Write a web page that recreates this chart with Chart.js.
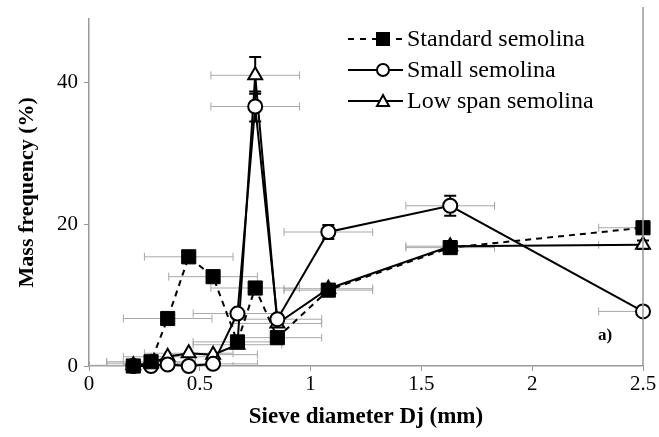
<!DOCTYPE html>
<html>
<head>
<meta charset="utf-8">
<script src="https://cdn.jsdelivr.net/npm/chart.js@4/dist/chart.umd.min.js"></script>
<style>
  html, body { margin: 0; padding: 0; background: #fff; }
  #wrap { width: 659px; height: 437px; }
</style>
</head>
<body>
<div id="wrap"><canvas id="myChart" width="659" height="437"></canvas></div>
<script>
// sieve diameters (mm)
const sieves = [0.2, 0.28, 0.355, 0.45, 0.56, 0.67, 0.75, 0.85, 1.08, 1.63, 2.5];

// mass frequency (%) for each semolina
const standardVals = [0, 0.6, 6.7, 15.4, 12.6, 3.4, 11.0, 4.0, 10.7, 16.7, 19.5];
const smallVals    = [0, 0, 0.2, 0, 0.3, 7.4, 36.6, 6.6, 18.9, 22.6, 7.7];
const lowSpanVals  = [0.1, 0.4, 1.3, 1.8, 1.6, 3.0, 41.0, 6.0, 10.9, 16.9, 17.1];

// error bars: vertical (%) and horizontal (mm)
const standardErr = [0, 0, 0, 0, 0, 0, 0, 0, 0, 0.5, 0.6];
const smallErr    = [0, 0, 0, 0, 0, 0, 2.1, 0, 1.0, 1.4, 0];
const lowSpanErr  = [0, 0, 0, 0, 0, 0, 2.6, 0, 0, 0, 0.6];
const sieveErr    = [0.2, 0.2, 0.2, 0.2, 0.2, 0.2, 0.2, 0.2, 0.2, 0.2, 0.2];

// tick labels
const xTicks = [0, 0.5, 1, 1.5, 2, 2.5];
const xTickLabels = ["0", "0.5", "1", "1.5", "2", "2.5"];
const yTicks = [0, 20, 40];
const yTickLabels = ["0", "20", "40"];

const seriesNames = ["Standard semolina", "Small semolina", "Low span semolina"];

const serif = "'Liberation Serif', 'DejaVu Serif', serif";

function toPoints(vals) {
    return sieves.map((x, i) => ({ x: x, y: vals[i] }));
}

// draws the error bars with the chart's own scales
const errorBars = {
    id: 'errorBars',
    beforeDatasetsDraw(chart) {
        const ctx = chart.ctx;
        const xs = chart.scales.x, ys = chart.scales.y;
        const area = chart.chartArea;
        const yErrs = [standardErr, smallErr, lowSpanErr];
        const vals = [standardVals, smallVals, lowSpanVals];
        ctx.save();
        ctx.beginPath();
        ctx.rect(area.left, area.top, area.right - area.left, area.bottom - area.top);
        ctx.clip();
        // horizontal, grey
        ctx.strokeStyle = '#a8a8a8';
        ctx.lineWidth = 1;
        vals.forEach(v => {
            sieves.forEach((x, i) => {
                const py = ys.getPixelForValue(v[i]);
                const x1 = xs.getPixelForValue(x - sieveErr[i]);
                const x2 = xs.getPixelForValue(x + sieveErr[i]);
                ctx.beginPath();
                ctx.moveTo(x1, py); ctx.lineTo(x2, py);
                ctx.moveTo(x1, py - 4); ctx.lineTo(x1, py + 4);
                ctx.moveTo(x2, py - 4); ctx.lineTo(x2, py + 4);
                ctx.stroke();
            });
        });
        ctx.restore();
        // vertical, black
        ctx.save();
        ctx.strokeStyle = '#000';
        ctx.lineWidth = 2;
        vals.forEach((v, s) => {
            sieves.forEach((x, i) => {
                const e = yErrs[s][i];
                if (!e) return;
                const px = xs.getPixelForValue(x);
                const y1 = ys.getPixelForValue(v[i] - e);
                const y2 = ys.getPixelForValue(v[i] + e);
                ctx.beginPath();
                ctx.moveTo(px, y1); ctx.lineTo(px, y2);
                ctx.moveTo(px - 6, y1); ctx.lineTo(px + 6, y1);
                ctx.moveTo(px - 6, y2); ctx.lineTo(px + 6, y2);
                ctx.stroke();
            });
        });
        ctx.restore();
    }
};

// legend, right border and panel letter
const extras = {
    id: 'extras',
    afterDraw(chart) {
        const ctx = chart.ctx;
        const area = chart.chartArea;
        ctx.save();
        ctx.strokeStyle = '#999';
        ctx.lineWidth = 1.5;
        ctx.beginPath();
        ctx.moveTo(area.right, 7);
        ctx.lineTo(area.right, area.bottom);
        ctx.stroke();

        const rows = [39, 70, 101];
        const styles = ['rect', 'circle', 'triangle'];
        rows.forEach((y, i) => {
            ctx.strokeStyle = '#000';
            ctx.lineWidth = 2;
            ctx.setLineDash(i === 0 ? [6, 6] : []);
            ctx.beginPath();
            ctx.moveTo(348, y); ctx.lineTo(403, y);
            ctx.stroke();
            ctx.setLineDash([]);
            ctx.fillStyle = i === 0 ? '#000' : '#fff';
            ctx.beginPath();
            if (styles[i] === 'rect') {
                ctx.rect(377, y - 6, 12, 12);
            } else if (styles[i] === 'circle') {
                ctx.arc(383, y, 6, 0, Math.PI * 2);
            } else {
                ctx.moveTo(383, y - 6); ctx.lineTo(389, y + 5); ctx.lineTo(377, y + 5); ctx.closePath();
            }
            ctx.fill();
            ctx.stroke();
            ctx.fillStyle = '#000';
            ctx.font = "24px " + serif;
            ctx.textBaseline = 'middle';
            ctx.textAlign = 'left';
            ctx.fillText(seriesNames[i], 407, y + 1);
        });

        ctx.font = "bold 17px " + serif;
        ctx.fillText("a)", 598, 336);
        ctx.restore();
    }
};

new Chart("myChart", {
    type: "line",
    data: {
        datasets: [{
            label: seriesNames[0],
            data: toPoints(standardVals),
            borderColor: '#000',
            borderWidth: 2,
            borderDash: [6, 5],
            pointStyle: 'rect',
            pointRadius: 10,
            pointBackgroundColor: '#000',
            pointBorderColor: '#000',
            pointBorderWidth: 1,
            clip: false
        }, {
            label: seriesNames[1],
            data: toPoints(smallVals),
            borderColor: '#000',
            borderWidth: 2,
            pointStyle: 'circle',
            pointRadius: 7,
            pointBackgroundColor: '#fff',
            pointBorderColor: '#000',
            pointBorderWidth: 2,
            clip: false
        }, {
            label: seriesNames[2],
            data: toPoints(lowSpanVals),
            borderColor: '#000',
            borderWidth: 2,
            pointStyle: 'triangle',
            pointRadius: 8,
            pointBackgroundColor: '#fff',
            pointBorderColor: '#000',
            pointBorderWidth: 2,
            clip: false
        }]
    },
    options: {
        responsive: false,
        animation: false,
        layout: { padding: { left: 10, right: 16, top: 16, bottom: 0 } },
        plugins: {
            legend: { display: false },
            tooltip: { enabled: false }
        },
        scales: {
            x: {
                type: 'linear',
                min: 0,
                max: 2.5,
                afterBuildTicks: (scale) => { scale.ticks = xTicks.map(v => ({ value: v })); },
                afterFit: (scale) => { scale.height = 71; },
                ticks: {
                    color: '#000',
                    font: { family: serif, size: 21 },
                    padding: 1,
                    maxRotation: 0,
                    callback: (v) => xTickLabels[xTicks.indexOf(v)]
                },
                grid: { drawOnChartArea: false, drawTicks: true, tickLength: 5, color: '#999' },
                border: { display: true, color: '#999', width: 1.5 },
                title: {
                    display: true,
                    text: 'Sieve diameter Dj (mm)',
                    color: '#000',
                    font: { family: serif, size: 23, weight: 'bold' },
                    padding: { top: 0, bottom: 6 }
                }
            },
            y: {
                min: 0,
                max: 49,
                afterBuildTicks: (scale) => { scale.ticks = yTicks.map(v => ({ value: v })); },
                afterFit: (scale) => { scale.width = 79; },
                ticks: {
                    color: '#000',
                    font: { family: serif, size: 21 },
                    padding: 6,
                    callback: (v) => yTickLabels[yTicks.indexOf(v)]
                },
                grid: { drawOnChartArea: false, drawTicks: true, tickLength: 5, color: '#999' },
                border: { display: true, color: '#999', width: 1.5 },
                title: {
                    display: true,
                    text: 'Mass frequency (%)',
                    color: '#000',
                    font: { family: serif, size: 22, weight: 'bold' },
                    padding: { bottom: 6 }
                }
            }
        }
    },
    plugins: [errorBars, extras]
});
</script>
</body>
</html>
